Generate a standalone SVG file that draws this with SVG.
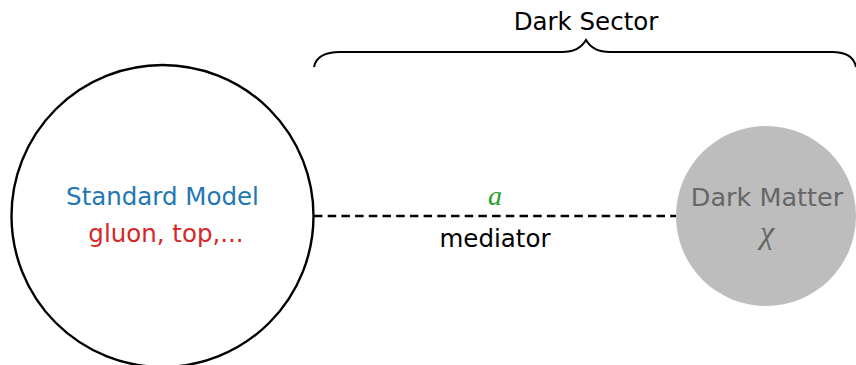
<svg xmlns="http://www.w3.org/2000/svg" width="856" height="365" viewBox="0 0 856 365">
<style>
.t{font-family:"DejaVu Sans","Liberation Sans",sans-serif;font-size:24.5px;text-anchor:middle}
.m{font-family:"Liberation Serif","DejaVu Serif",serif;font-style:italic;font-size:28px;text-anchor:middle}
</style>
<rect width="856" height="365" fill="#fff"/>
<g id="connectors">
<line x1="314" y1="216" x2="676" y2="216" stroke="#000" stroke-width="2.4" stroke-dasharray="8.5,5.2"/>
<text class="m" x="495" y="205" fill="#2ca02c">a</text>
<text class="t" x="495" y="247" fill="#000">mediator</text>
</g>
<g id="standard-model">
<circle cx="162.5" cy="216" r="151" fill="#fff" stroke="#000" stroke-width="2.4"/>
<text class="t" x="162.5" y="205" fill="#1f77b4">Standard Model</text>
<text class="t" x="166" y="242" fill="#d62728">gluon, top,...</text>
</g>
<g id="dark-matter">
<circle cx="766" cy="216" r="90" fill="#bdbdbd"/>
<text class="t" x="767" y="206" fill="#666" style="font-size:25.5px">Dark Matter</text>
<text class="m" x="767" y="243" fill="#666" style="font-size:32px">χ</text>
</g>
<g id="dark-sector">
<path d="M314,67 Q317,52 340,52 L562,52 Q579,52 586,40 Q593,52 610,52 L832,52 Q853,52 856,67" fill="none" stroke="#000" stroke-width="2"/>
<text class="t" x="586" y="30" fill="#000">Dark Sector</text>
</g>
</svg>
